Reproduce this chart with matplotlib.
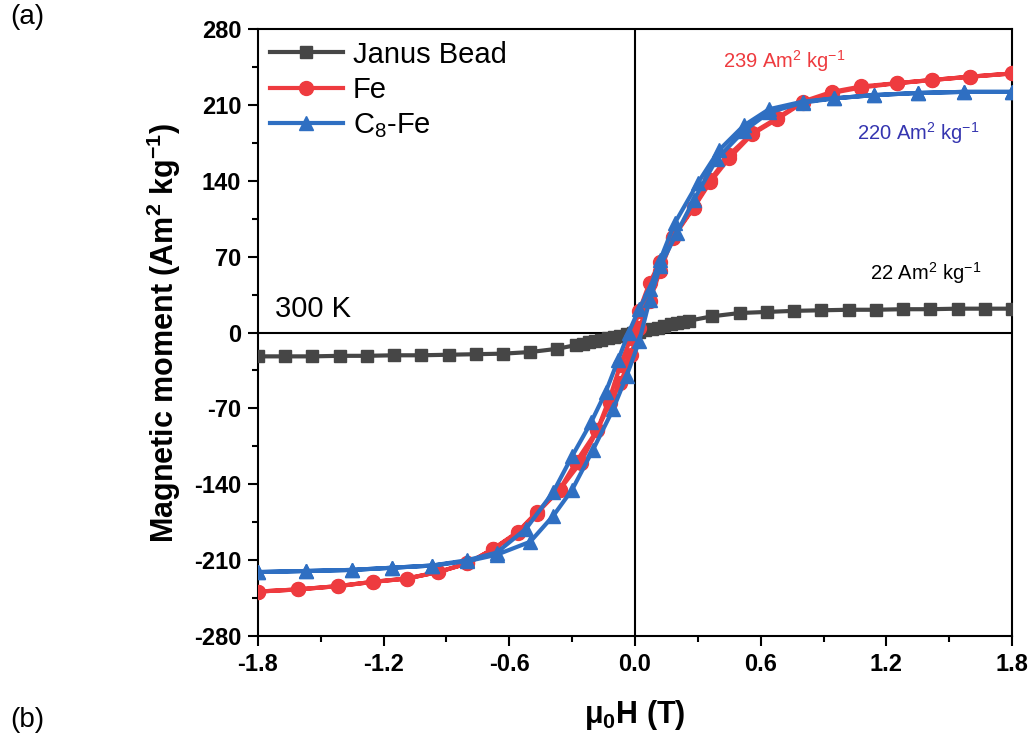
import matplotlib
matplotlib.use("Agg")
import matplotlib.pyplot as plt
from matplotlib.ticker import MultipleLocator, FixedLocator

plt.rcParams['font.family'] = ['Liberation Sans', 'DejaVu Sans']
plt.rcParams['mathtext.fontset'] = 'custom'
plt.rcParams['mathtext.rm'] = 'Liberation Sans'
plt.rcParams['mathtext.it'] = 'Liberation Sans:italic'
plt.rcParams['mathtext.bf'] = 'Liberation Sans:bold'

# Janus bead (one branch, loop is closed)
janus_h = [1.80, 1.67, 1.54, 1.41, 1.28, 1.15, 1.02, 0.89, 0.76, 0.63, 0.50, 0.37,
           0.26, 0.23, 0.20, 0.17, 0.14, 0.11, 0.08, 0.05, 0.02, -0.01, -0.04, -0.07,
           -0.10, -0.13, -0.16, -0.19, -0.22, -0.25, -0.28, -0.37, -0.50, -0.63,
           -0.76, -0.89, -1.02, -1.15, -1.28, -1.41, -1.54, -1.67, -1.80]
janus_m = [22, 22, 22, 21.5, 21.5, 21, 21, 20.5, 20, 19, 18, 15,
           11, 10, 9, 7.5, 6, 4.5, 3.3, 2, 0.8, -0.4, -1.6, -2.8,
           -4, -5.2, -6.5, -7.7, -9, -10.2, -11.5, -15, -18, -19.5,
           -20, -20.5, -21, -21, -21.5, -21.5, -22, -22, -22]

# Fe, descending then ascending branch
fe_h_down = [1.80, 1.60, 1.42, 1.25, 1.08, 0.94, 0.80, 0.68, 0.56, 0.45, 0.36, 0.28,
             0.18, 0.12, 0.07, 0.02, -0.02, -0.07, -0.12, -0.18, -0.26, -0.36, -0.47,
             -0.56, -0.68, -0.80, -0.94, -1.09, -1.25, -1.42, -1.61, -1.80]
fe_m_down = [239, 236, 233, 230, 227, 222, 213, 198, 184, 164, 141, 116,
             88, 65, 46, 20, -5, -30, -60, -90, -120, -145, -166,
             -184, -200, -213, -221, -227, -230, -234, -237, -239]
fe_h_up = [-1.80, -1.61, -1.42, -1.25, -1.09, -0.94, -0.80, -0.68, -0.56, -0.47, -0.36,
           -0.28, -0.18, -0.12, -0.07, -0.02, 0.02, 0.07, 0.12, 0.18, 0.28, 0.36, 0.45,
           0.56, 0.68, 0.80, 0.94, 1.08, 1.25, 1.42, 1.60, 1.80]
fe_m_up = [-239, -237, -234, -230, -227, -221, -213, -200, -185, -167, -145,
           -119, -90, -65, -47, -21, 4, 29, 57, 87, 115, 139, 161,
           183, 197, 212, 221, 226, 230, 233, 236, 239]

# C8-Fe, descending then ascending branch
c8_h_down = [1.80, 1.57, 1.35, 1.14, 0.95, 0.80, 0.64, 0.52, 0.40, 0.30, 0.19, 0.12,
             0.07, 0.02, -0.03, -0.08, -0.14, -0.21, -0.30, -0.39, -0.52, -0.66,
             -0.80, -0.97, -1.16, -1.35, -1.57, -1.80]
c8_m_down = [222, 222, 221, 219, 216, 213, 206, 191, 168, 138, 101, 67,
             40, 22, 0, -25, -55, -83, -114, -147, -181, -203,
             -210, -215, -217, -219, -220, -221]
c8_h_up = [-1.80, -1.57, -1.35, -1.16, -0.97, -0.80, -0.66, -0.50, -0.39, -0.30, -0.20,
           -0.105, -0.04, 0.02, 0.07, 0.12, 0.20, 0.28, 0.39, 0.52, 0.64, 0.80, 0.95,
           1.14, 1.35, 1.57, 1.80]
c8_m_up = [-221, -220, -219, -217, -215, -211, -205, -193, -169, -145, -108,
           -71, -40, -8, 30, 61, 92, 122, 160, 186, 203, 212, 216,
           219, 221, 222, 222]

x_ticks = [-1.8, -1.2, -0.6, 0.0, 0.6, 1.2, 1.8]
y_ticks = [-280, -210, -140, -70, 0, 70, 140, 210, 280]

grey = '#464646'
red = '#ee3b3f'
blue = '#2f6fc2'

fig = plt.figure(figsize=(10.29, 7.40), dpi=100)
ax = fig.add_axes([0.2507, 0.1405, 0.7328, 0.8203])

ax.axhline(0, color='black', lw=1.5, zorder=1)
ax.axvline(0, color='black', lw=1.5, zorder=1)

ax.plot(janus_h, janus_m, color=grey, lw=3, marker='s', ms=8.5, label='Janus Bead', zorder=3)
ax.plot(fe_h_down + fe_h_up, fe_m_down + fe_m_up, color=red, lw=3, marker='o', ms=10,
        label='Fe', zorder=4)
ax.plot(c8_h_down + c8_h_up, c8_m_down + c8_m_up, color=blue, lw=3, marker='^', ms=10,
        label='C$_8$-Fe', zorder=5)

ax.set_xlim(-1.8, 1.8)
ax.set_ylim(-280, 280)
ax.xaxis.set_major_locator(FixedLocator(x_ticks))
ax.yaxis.set_major_locator(FixedLocator(y_ticks))
ax.xaxis.set_minor_locator(MultipleLocator(0.3))
ax.yaxis.set_minor_locator(MultipleLocator(35))
ax.set_xticklabels(['%.1f' % v for v in x_ticks])
ax.set_yticklabels([str(v) for v in y_ticks])
ax.tick_params(which='major', direction='out', length=7, width=1.5, labelsize=17, pad=5)
ax.tick_params(which='minor', direction='out', length=4, width=1.5)
for lab in ax.get_xticklabels() + ax.get_yticklabels():
    lab.set_fontweight('bold')
for sp in ax.spines.values():
    sp.set_linewidth(1.5)

ax.set_xlabel(r'$\mathbf{\mu_0}$H (T)', fontsize=22, fontweight='bold', labelpad=16)
ax.set_ylabel(r'Magnetic moment (Am$^\mathbf{2}$ kg$^\mathbf{-1}$)', fontsize=22,
              fontweight='bold', labelpad=8)

ax.text(-1.72, 14, '300 K', fontsize=21)
ax.text(0.42, 244, '239 Am$^2$ kg$^{-1}$', fontsize=14.5, color=red)
ax.text(1.06, 178, '220 Am$^2$ kg$^{-1}$', fontsize=14.5, color='#3535b0')
ax.text(1.12, 49, '22 Am$^2$ kg$^{-1}$', fontsize=14.5, color='black')

ax.legend(loc='upper left', bbox_to_anchor=(0.0, 1.0), frameon=False, fontsize=21,
          handlelength=2.5, handletextpad=0.35, labelspacing=0.25, borderaxespad=0.2,
          borderpad=0.2)

fig.text(0.01, 0.995, '(a)', fontsize=20, va='top')
fig.text(0.01, 0.045, '(b)', fontsize=20, va='top')

fig.savefig('out.png', dpi=100)
